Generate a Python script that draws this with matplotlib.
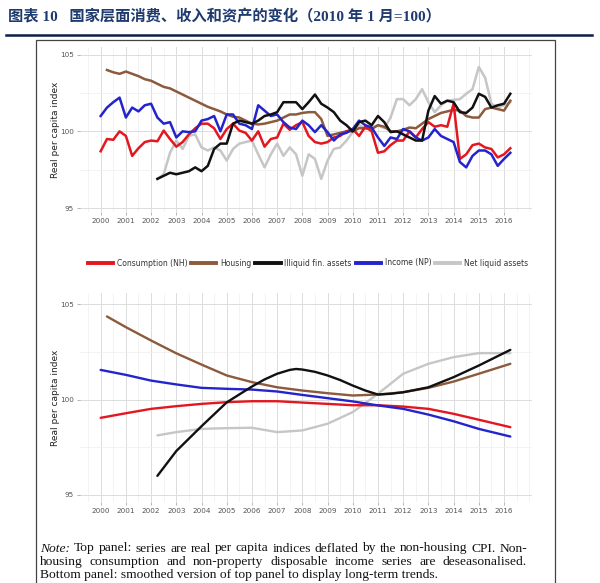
import matplotlib
matplotlib.use("Agg")
import matplotlib.pyplot as plt
from matplotlib.lines import Line2D
from matplotlib.patches import Rectangle
from matplotlib.ticker import MultipleLocator

# ---- data (index, 2010Q1 = 100) ----
# quarterly time axis 2000Q1 .. 2016Q2
quarters = [y + q / 4 for y in range(2000, 2017) for q in range(4)][:66]

consumption = [98.7, 99.5, 99.45, 100.0, 99.7, 98.4, 98.9, 99.3, 99.4, 99.35, 100.05, 99.5,
               99.0, 99.3, 99.8, 100.2, 100.5, 100.5, 100.2, 99.5, 100.15, 100.5, 100.05, 99.9,
               99.4, 100.0, 99.0, 99.5, 99.6, 100.5, 100.1, 100.4, 100.6, 99.7, 99.3, 99.2,
               99.3, 99.6, 99.7, 100.0, 100.15, 99.7, 100.3, 100.0, 98.6, 98.7, 99.1, 99.4,
               99.4, 100.0, 99.6, 100.15, 100.6, 100.3, 100.4, 100.3, 101.8, 98.2, 98.5, 99.1,
               99.2, 98.95, 98.85, 98.3, 98.5, 98.9]
housing = [104.0, 103.85, 103.75, 103.9, 103.75, 103.6, 103.4, 103.3, 103.1, 102.9, 102.8,
           102.6, 102.4, 102.2, 102.0, 101.8, 101.6, 101.45, 101.3, 101.1, 100.95, 100.9, 100.7,
           100.5, 100.45, 100.5, 100.6, 100.7, 100.9, 101.1, 101.1, 101.2, 101.25, 101.25, 100.8,
           99.7, 99.8, 99.9, 100.0, 100.0, 100.2, 100.2, 100.15, 100.4, 100.3, 100.0, 100.0,
           100.1, 100.25, 100.2, 100.5, 100.8, 101.0, 101.2, 101.3, 101.4, 101.35, 101.0, 100.9,
           100.9, 101.45, 101.55, 101.45, 101.35, 102.0]
illiquid = [96.9, 97.1, 97.3, 97.2, 97.3, 97.4, 97.65, 97.4, 97.75, 98.85, 99.2,
            99.2, 100.5, 100.7, 100.6, 100.5, 100.7, 101.0, 101.1, 101.25, 101.9, 101.9, 101.9,
            101.45, 101.9, 102.4, 101.8, 101.55, 101.25, 100.7, 100.4, 100.0, 100.6, 100.7, 100.4,
            101.0, 100.6, 99.95, 100.0, 99.8, 99.6, 99.4, 99.4, 101.35, 102.3, 101.8, 102.0,
            101.9, 101.25, 101.2, 101.55, 102.45, 102.25, 101.55, 101.7, 101.8, 102.45]
income = [101.0, 101.55, 101.9, 102.2, 100.9, 101.55, 101.3, 101.7, 101.8, 100.9, 100.5, 100.6,
          99.6, 100.0, 99.95, 100.0, 100.7, 100.8, 101.0, 100.0, 101.1, 101.1, 100.5, 100.4,
          100.15, 101.7, 101.35, 101.0, 101.1, 100.6, 100.25, 100.15, 100.7, 100.4, 99.95, 100.4,
          99.95, 99.4, 99.8, 99.9, 100.15, 100.7, 100.4, 100.25, 99.6, 99.05, 99.6, 99.5,
          100.15, 100.0, 99.6, 99.4, 99.6, 100.15, 99.7, 99.5, 99.3, 98.0, 97.65, 98.4,
          98.75, 98.75, 98.5, 97.75, 98.2, 98.6]
net_liquid = [96.9, 97.2, 98.6, 99.4, 98.85, 99.7, 99.8, 98.95, 98.75, 98.95, 98.75,
              98.1, 98.85, 99.2, 99.3, 99.4, 98.5, 97.65, 98.5, 99.2, 98.4, 98.95, 98.5,
              97.1, 98.5, 98.2, 96.9, 98.1, 98.85, 98.95, 99.4, 99.95, 100.4, 100.2, 100.25,
              100.4, 100.2, 100.9, 102.1, 102.1, 101.7, 102.1, 102.75, 101.9, 101.25, 101.7, 102.0,
              102.05, 102.1, 102.45, 102.75, 104.2, 103.5, 101.8, 101.55, 101.7, 101.9]

# smoothed (bottom panel)
sm_years = [2000, 2001, 2002, 2003, 2004, 2005, 2006, 2007, 2008, 2009, 2010, 2011,
            2012, 2013, 2014, 2015, 2016.25]
sm_consumption = [99.04, 99.28, 99.51, 99.65, 99.77, 99.86, 99.91, 99.91, 99.84, 99.77, 99.7,
                  99.7, 99.63, 99.51, 99.25, 98.94, 98.55]
sm_income = [101.55, 101.29, 100.99, 100.79, 100.61, 100.56, 100.52, 100.42, 100.24, 100.07,
             99.9, 99.69, 99.51, 99.21, 98.86, 98.46, 98.06]
sm_housing_years = [2000.25, 2001, 2002, 2003, 2004, 2005, 2006, 2007, 2008, 2009, 2010, 2011,
                    2012, 2013, 2014, 2015, 2016.25]
sm_housing = [104.35, 103.79, 103.09, 102.42, 101.83, 101.26, 100.91, 100.64, 100.47, 100.33,
              100.21, 100.26, 100.38, 100.61, 100.94, 101.35, 101.87]
sm_illiquid_years = [2002.25, 2003, 2004, 2005, 2006, 2006.5, 2007, 2007.5, 2007.75, 2008, 2008.5,
                     2009, 2009.5, 2010, 2010.5, 2011, 2011.5, 2012, 2013, 2014, 2015, 2016.25]
sm_illiquid = [96.0, 97.3, 98.6, 99.85, 100.68, 101.05, 101.35, 101.55, 101.6, 101.57, 101.45,
               101.26, 101.02, 100.73, 100.47, 100.26, 100.3, 100.38, 100.64, 101.17, 101.78, 102.6]
sm_net_years = [2002.25, 2003, 2004, 2005, 2006, 2007, 2008, 2009, 2010, 2011, 2012, 2013,
                2014, 2015, 2016.25]
sm_net = [98.12, 98.29, 98.46, 98.5, 98.52, 98.29, 98.38, 98.73, 99.34, 100.3, 101.35, 101.87,
          102.22, 102.43, 102.43]

labels = ["Consumption (NH)", "Housing", "Illiquid fin. assets", "Income (NP)", "Net liquid assets"]
colors = ["#e3171f", "#8c5a3c", "#111111", "#2424cc", "#c6c6c6"]
year_ticks = list(range(2000, 2017))

W, H = 600, 583
fig = plt.figure(figsize=(W / 100, H / 100), dpi=100)


def px(x0, y0, x1, y1):
    return [x0 / W, 1 - y1 / H, (x1 - x0) / W, (y1 - y0) / H]


def style_axes(ax, ylim):
    ax.set_xlim(1999.18, 2017.11)
    ax.set_ylim(*ylim)
    for s in ax.spines.values():
        s.set_visible(False)
    ax.set_xticks(year_ticks)
    ax.set_yticks([95, 100, 105])
    ax.xaxis.set_minor_locator(MultipleLocator(0.5))
    ax.yaxis.set_minor_locator(MultipleLocator(2.5))
    ax.grid(True, which="major", color="#dcdcdc", lw=0.7)
    ax.grid(True, which="minor", color="#efefef", lw=0.5)
    ax.tick_params(which="major", length=2.5, width=0.5, color="#999999",
                   labelsize=5.2, labelcolor="#555555", pad=2)
    ax.tick_params(which="minor", length=0)
    ax.set_ylabel("Real per capita index", fontsize=6.5, color="#222222")
    ax.yaxis.set_label_coords(-0.045, 0.5)
    ax.set_axisbelow(True)


# top panel: raw series
ax1 = fig.add_axes(px(80, 47, 532, 212))
series = [(quarters, consumption), (quarters[1:], housing), (quarters[9:], illiquid),
          (quarters, income), (quarters[9:], net_liquid)]
order = [4, 1, 0, 3, 2]
for i in order:
    xs, ys = series[i]
    ax1.plot(xs, ys, color=colors[i], lw=1.8, solid_joinstyle="round", label=labels[i])
style_axes(ax1, (94.74, 105.5))

# bottom panel: smoothed series
ax2 = fig.add_axes(px(80, 293, 532, 502))
smooth = [(sm_years, sm_consumption), (sm_housing_years, sm_housing),
          (sm_illiquid_years, sm_illiquid), (sm_years, sm_income), (sm_net_years, sm_net)]
for i in order:
    xs, ys = smooth[i]
    ax2.plot(xs, ys, color=colors[i], lw=1.7, solid_joinstyle="round", solid_capstyle="round")
style_axes(ax2, (94.63, 105.58))

# legend between the panels
handles = [Line2D([], [], color=c, lw=2.8) for c in colors]
fig.legend(handles, labels, loc="center", bbox_to_anchor=(308 / W, 1 - 263 / H), ncol=5,
           frameon=False, fontsize=5.5, handlelength=3.3, handletextpad=0.5,
           columnspacing=0.5, borderpad=0, labelcolor="#333333")

# frame around chart and note
fig.add_artist(Rectangle((36 / W, -0.02), (555 - 36) / W, 1 - 40 / H + 0.02,
                         transform=fig.transFigure, fill=False, ec="#444444", lw=0.9))

# title and rule
navy = "#1f3a6e"
fig.text(8 / W, 1 - 17 / H, "图表 10   国家层面消费、收入和资产的变化（2010 年 1 月=100）",
         family=["Liberation Serif", "Noto Sans CJK SC"], fontsize=11, weight="bold",
         color=navy, va="center", ha="left")
fig.add_artist(Line2D([6 / W, 592 / W], [1 - 35 / H, 1 - 35 / H], color="#0d1f45", lw=1.8,
                      transform=fig.transFigure))

# note text, first two lines justified
note_lines = [
    [("Note:", "italic"), ("Top", "normal"), ("panel:", "normal"), ("series", "normal"),
     ("are", "normal"), ("real", "normal"), ("per", "normal"), ("capita", "normal"),
     ("indices", "normal"), ("deflated", "normal"), ("by", "normal"), ("the", "normal"),
     ("non-housing", "normal"), ("CPI.", "normal"), ("Non-", "normal")],
    [(w, "normal") for w in "housing consumption and non-property disposable income series are deseasonalised.".split()],
]
note_size = 9.7
note_x0, note_x1 = 40 / W, 527 / W
renderer = fig.canvas.get_renderer()
for k, words in enumerate(note_lines):
    y = 1 - (548.5 + 13.3 * k) / H
    texts = [fig.text(0, y, w, family="Liberation Serif", style=st, fontsize=note_size,
                      va="center", ha="left", color="#111111") for w, st in words]
    widths = [t.get_window_extent(renderer).width / W for t in texts]
    gap = (note_x1 - note_x0 - sum(widths)) / (len(texts) - 1)
    x = note_x0
    for t, w in zip(texts, widths):
        t.set_x(x)
        x += w + gap
fig.text(note_x0, 1 - (548.5 + 13.3 * 2) / H,
         "Bottom panel: smoothed version of top panel to display long-term trends.",
         family="Liberation Serif", fontsize=note_size, va="center", ha="left", color="#111111")

fig.savefig("out.png", dpi=100)
